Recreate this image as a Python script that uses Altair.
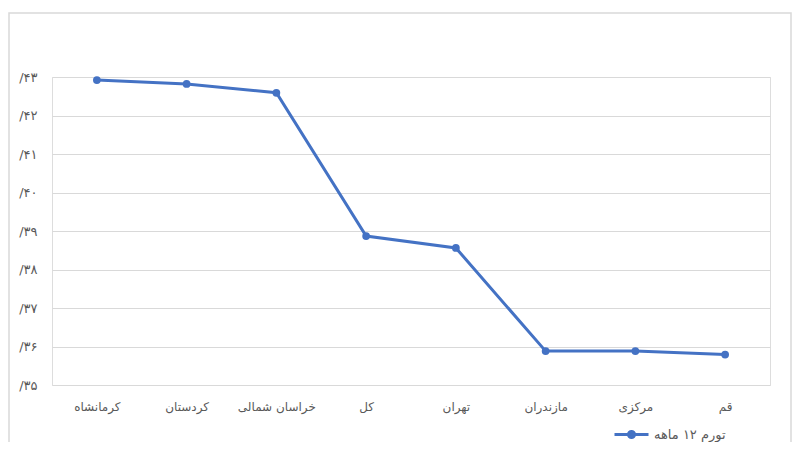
import altair as alt
import pandas as pd

categories = ["کرمانشاه", "کردستان", "خراسان شمالی", "کل", "تهران", "مازندران", "مرکزی", "قم"]
values = [42.92, 42.82, 42.59, 38.87, 38.56, 35.88, 35.88, 35.79]
tick_values = [35, 36, 37, 38, 39, 40, 41, 42, 43]
tick_labels = ["/۳۵", "/۳۶", "/۳۷", "/۳۸", "/۳۹", "/۴۰", "/۴۱", "/۴۲", "/۴۳"]
series_name = "تورم ۱۲ ماهه"

df = pd.DataFrame({"region": categories, "value": values, "series": series_name})

label_expr = "''"
for v, lab in zip(reversed(tick_values), reversed(tick_labels)):
    label_expr = f"datum.value == {v} ? '{lab}' : ({label_expr})"

FONT = "DejaVu Sans"
BLUE = "#4472C4"
GRAY = "#595959"
W, H = 718, 308

x_enc = alt.X("region:N", sort=categories, title=None,
              scale=alt.Scale(type="point", padding=0.5),
              axis=alt.Axis(labelAngle=0, ticks=False, domain=False, grid=False,
                            labelPadding=16, labelFont=FONT, labelFontSize=12,
                            labelColor=GRAY))
y_enc = alt.Y("value:Q", title=None,
              scale=alt.Scale(domain=[35, 43], nice=False, zero=False),
              axis=alt.Axis(values=tick_values, labelExpr=label_expr, ticks=False,
                            domain=False, gridColor="#d9d9d9", gridWidth=1,
                            labelPadding=15, labelFont=FONT, labelFontSize=13,
                            labelColor=GRAY))

# legend symbol: a short line with a filled circle in the middle
sym_path = ("M-1,0L-0.18,0M0.18,0L1,0"
            "M0.18,0A0.18,0.18 0 1,1 -0.18,0A0.18,0.18 0 1,1 0.18,0Z")

color_enc = alt.Color("series:N", title=None,
                      scale=alt.Scale(domain=[series_name], range=[BLUE]),
                      legend=alt.Legend(orient="none", legendX=561, legendY=339,
                                        symbolType=sym_path, symbolSize=1156,
                                        symbolStrokeWidth=3, symbolFillColor=BLUE,
                                        symbolStrokeColor=BLUE, labelFont=FONT,
                                        labelFontSize=13, labelColor=GRAY,
                                        labelOffset=4, labelLimit=200))

base = alt.Chart(df)
line = base.mark_line(strokeWidth=3).encode(x=x_enc, y=y_enc, color=color_enc)
pts = base.mark_point(filled=True, size=60, opacity=1).encode(x=x_enc, y=y_enc, color=color_enc)

frame_df = pd.DataFrame({"k": [0]})
border = alt.Chart(frame_df).mark_rect(fill=None, stroke="#d9d9d9", strokeWidth=1.5).encode(
    x=alt.value(-43), x2=alt.value(739), y=alt.value(-64), y2=alt.value(380))

chart = alt.layer(border, line, pts).properties(
    width=W, height=H,
    autosize=alt.AutoSizeParams(type="none"),
    padding={"left": 44, "top": 69, "right": 22, "bottom": 57},
).configure_view(stroke=None).configure(background="white")

chart.save("out.html", embed_options={"renderer": "svg", "actions": False})
